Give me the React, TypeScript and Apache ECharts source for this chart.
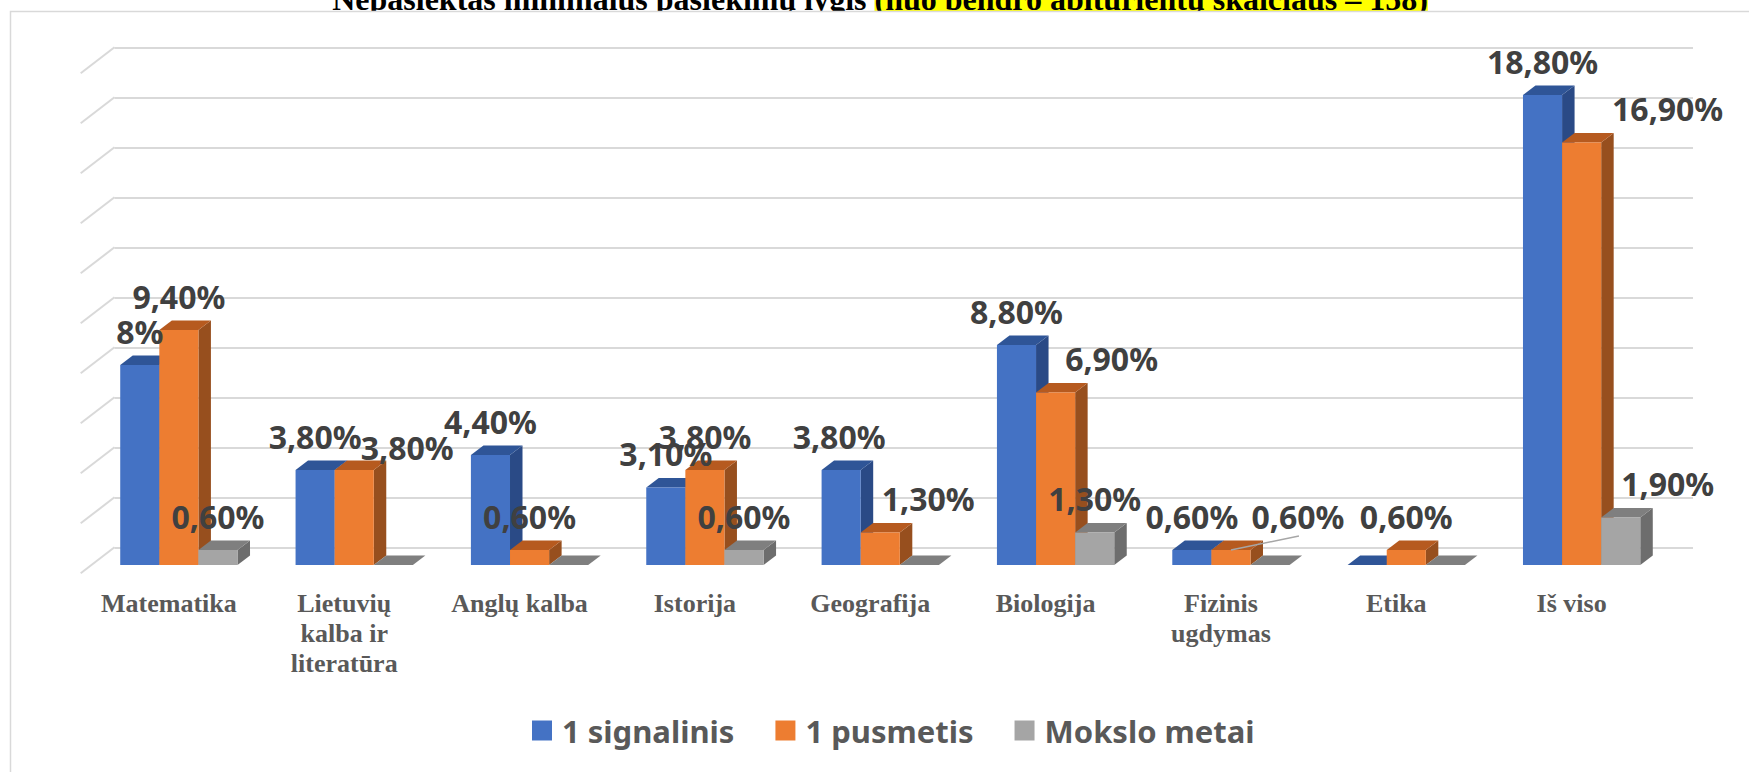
import React, { useEffect, useRef } from "react";
import * as echarts from "echarts";

// ---------- data ----------
const categories = [
  "Matematika",
  "Lietuvių\nkalba ir\nliteratūra",
  "Anglų kalba",
  "Istorija",
  "Geografija",
  "Biologija",
  "Fizinis\nugdymas",
  "Etika",
  "Iš viso",
];
const seriesNames = ["1 signalinis", "1 pusmetis", "Mokslo metai"];
const signalinis = [8, 3.8, 4.4, 3.1, 3.8, 8.8, 0.6, 0, 18.8];
const pusmetis = [9.4, 3.8, 0.6, 3.8, 1.3, 6.9, 0.6, 0.6, 16.9];
const moksloMetai = [0.6, 0, 0, 0.6, 0, 1.3, 0, 0, 1.9];
const yTicks = [0, 2, 4, 6, 8, 10, 12, 14, 16, 18, 20];
const titleMain = "Nepasiektas minimalus pasiekimų lygis ";
const titleHighlight = "(nuo bendro abiturientų skaičiaus – 158)";

// ---------- layout / style ----------
const W = 1749;
const H = 772;
const BAR_RATIO = 0.223; // bar width relative to category band
const DX = 12.5; // bar depth (screen x)
const DY = 9.5; // bar depth (screen y)
const WALL_DX = 33.8;
const WALL_DY = 26;
const GRID_COLOR = "#D9D9D9";
const palette = [
  { front: "#4472C4", top: "#2F5597", side: "#2A4A86" },
  { front: "#ED7D31", top: "#B65A1F", side: "#974F1E" },
  { front: "#A5A5A5", top: "#7F7F7F", side: "#6D6D6D" },
];
// manual label nudges (px) like in the original chart: [series][category] -> [dx, dy]
const labelShift = [
  [[0, 0], [0, 0], [0, 0], [0, 0], [-2, 0], [0, 0], [0, 0], [0, 0], [0, 0]],
  [[0, 0], [53, 11], [0, 0], [0, 0], [48, 0], [56, 0], [67, 0], [0, 0], [86, 0]],
  [[0, 0], [0, 0], [0, 0], [0, 0], [0, 0], [0, 0], [0, 0], [0, 0], [47, 0]],
];
const leaderLines = [[], [6], []];

const fmt = (v: number) =>
  Number.isInteger(v) ? `${v}%` : `${v.toFixed(2).replace(".", ",")}%`;

function barSeries(s: number, values: number[]) {
  return {
    type: "custom",
    name: seriesNames[s],
    xAxisIndex: 0,
    yAxisIndex: 0,
    clip: false,
    itemStyle: { color: palette[s].front },
    data: values.map((v, i) => [i, v]),
    encode: { x: 0, y: 1 },
    renderItem: (params: any, api: any) => {
      const ci = api.value(0);
      const v = api.value(1);
      const base = api.coord([ci, 0]);
      const top = api.coord([ci, v]);
      const band = api.size([1, 0])[0];
      const bw = band * BAR_RATIO;
      const x0 = base[0] - 1.5 * bw + s * bw;
      const ty = top[1];
      const by = base[1];
      const c = palette[s];
      const children: any[] = [
        {
          type: "polygon",
          shape: {
            points: [
              [x0 + bw, ty],
              [x0 + bw + DX, ty - DY],
              [x0 + bw + DX, by - DY],
              [x0 + bw, by],
            ],
          },
          style: { fill: c.side },
        },
        {
          type: "polygon",
          shape: {
            points: [
              [x0, ty],
              [x0 + bw, ty],
              [x0 + bw + DX, ty - DY],
              [x0 + DX, ty - DY],
            ],
          },
          style: { fill: c.top },
        },
        {
          type: "rect",
          shape: { x: x0, y: ty, width: bw, height: by - ty },
          style: { fill: c.front },
        },
      ];
      if (v > 0) {
        const [sx, sy] = labelShift[s][ci];
        const lx = x0 + bw / 2 + sx;
        const ly = ty - 34 + sy;
        if (leaderLines[s].indexOf(ci) >= 0) {
          children.push({
            type: "line",
            z2: 90,
            shape: { x1: x0 + bw / 2, y1: ty, x2: lx + 1, y2: ly + 20 },
            style: { stroke: "#A6A6A6", lineWidth: 1.5 },
          });
        }
        children.push({
          type: "text",
          z2: 100,
          x: lx,
          y: ly,
          style: {
            text: fmt(v),
            fontFamily: "Noto Sans",
            fontWeight: "bold",
            fontSize: 32,
            fill: "#404040",
            align: "center",
            verticalAlign: "middle",
          },
        });
      }
      return { type: "group", children };
    },
  };
}

export default function App() {
  const ref = useRef<HTMLDivElement>(null);
  useEffect(() => {
    if (!ref.current) return;
    const chart = echarts.init(ref.current, undefined, { renderer: "svg" });
    const option: any = {
      animation: false,
      backgroundColor: "#FFFFFF",
      graphic: [
        {
          type: "text",
          z: -1,
          x: 880,
          y: -1.3,
          style: {
            text: `${titleMain}{hl|${titleHighlight}}`,
            fontFamily: "Liberation Serif",
            fontWeight: "bold",
            fontSize: 32,
            fill: "#000000",
            align: "center",
            verticalAlign: "middle",
            rich: {
              hl: {
                backgroundColor: "#FFFF00",
                fontFamily: "Liberation Serif",
                fontWeight: "bold",
                fontSize: 32,
                fill: "#000000",
              },
            },
          },
        },
        {
          type: "rect",
          z: -1,
          shape: { x: 0, y: 11, width: W, height: 30 },
          style: { fill: "#FFFFFF" },
        },
        {
          type: "rect",
          z: -1,
          shape: { x: 10.5, y: 11.5, width: 1800, height: 800 },
          style: { fill: "none", stroke: GRID_COLOR, lineWidth: 1.5 },
        },
      ],
      legend: {
        data: seriesNames,
        left: 532,
        top: 715,
        padding: 0,
        icon: "rect",
        itemWidth: 20,
        itemHeight: 20,
        itemGap: 41,
        textStyle: {
          fontFamily: "Noto Sans",
          fontWeight: "bold",
          fontSize: 31,
          color: "#595959",
          padding: [0, 0, 0, 5],
        },
      },
      grid: [
        { left: 91.2, top: 65, width: 1578.1, height: 500 },
        { left: 114.5, top: 47.3, width: 1578.5, height: 500 },
      ],
      xAxis: [
        {
          type: "category",
          gridIndex: 0,
          data: categories,
          boundaryGap: true,
          axisLine: { show: false },
          axisTick: { show: false },
          splitLine: { show: false },
          axisLabel: {
            interval: 0,
            margin: 23,
            fontFamily: "Liberation Serif",
            fontWeight: "bold",
            fontSize: 26,
            lineHeight: 30,
            color: "#595959",
            padding: [0, 20, 0, 0],
          },
        },
        { type: "value", gridIndex: 1, min: 0, max: 1, show: false },
      ],
      yAxis: [
        { type: "value", gridIndex: 0, min: 0, max: 20, interval: 2, show: false },
        {
          type: "value",
          gridIndex: 1,
          min: 0,
          max: 20,
          interval: 2,
          axisLine: { show: false },
          axisTick: { show: false },
          axisLabel: { show: false },
          splitLine: { show: true, lineStyle: { color: GRID_COLOR, width: 2 } },
        },
      ],
      series: [
        {
          type: "custom",
          xAxisIndex: 1,
          yAxisIndex: 1,
          clip: false,
          silent: true,
          data: yTicks.map((v) => [0, v]),
          encode: { x: 0, y: 1 },
          renderItem: (params: any, api: any) => {
            const p = api.coord([0, api.value(1)]);
            return {
              type: "line",
              shape: { x1: p[0], y1: p[1], x2: p[0] - WALL_DX, y2: p[1] + WALL_DY },
              style: { stroke: GRID_COLOR, lineWidth: 2 },
            };
          },
        },
        barSeries(0, signalinis),
        barSeries(1, pusmetis),
        barSeries(2, moksloMetai),
      ],
    };
    chart.setOption(option);
    return () => chart.dispose();
  }, []);
  return (
    <div
      ref={ref}
      style={{ position: "absolute", left: 0, top: 0, width: W, height: H }}
    />
  );
}
